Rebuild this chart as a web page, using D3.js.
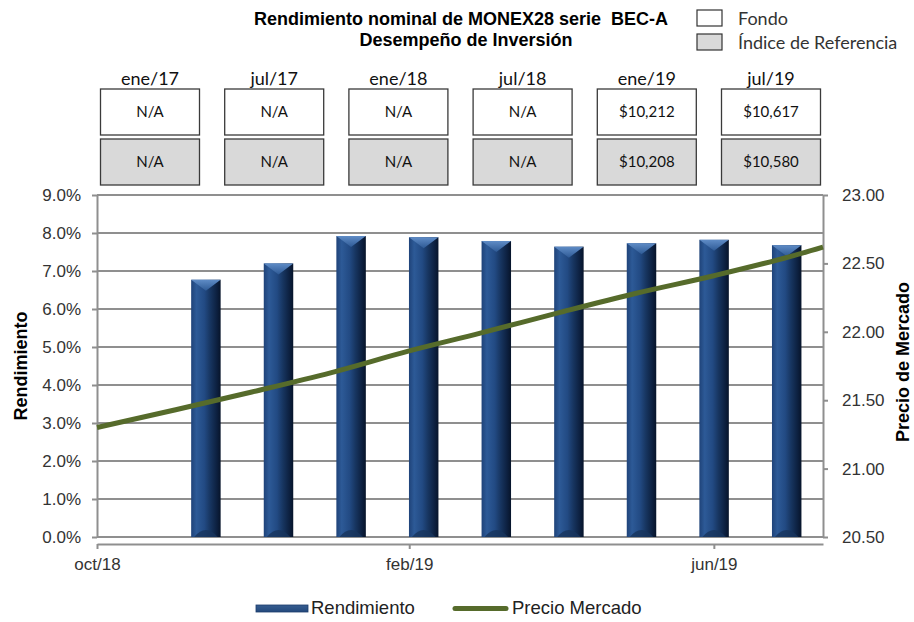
<!DOCTYPE html>
<html>
<head>
<meta charset="utf-8">
<script src="https://cdn.jsdelivr.net/npm/d3@7"></script>
<style>
  body { margin: 0; background: #fff; }
</style>
</head>
<body>
<div id="chart"></div>
<script>
// Data
const boxDates = ['ene/17', 'jul/17', 'ene/18', 'jul/18', 'ene/19', 'jul/19']
const fundValues = ['N/A', 'N/A', 'N/A', 'N/A', '$10,212', '$10,617']
const benchValues = ['N/A', 'N/A', 'N/A', 'N/A', '$10,208', '$10,580']

const barCategories = ['oct/18', 'nov/18', 'dic/18', 'ene/19', 'feb/19', 'mar/19', 'abr/19', 'may/19', 'jun/19', 'jul/19']
const barValues = [null, 0.0677, 0.0720, 0.0792, 0.0789, 0.0779, 0.0764, 0.0773, 0.0782, 0.0768]

const priceDates = ['2018-10-01', '2018-11-01', '2018-12-01', '2019-01-01', '2019-02-01', '2019-03-01',
  '2019-04-01', '2019-05-01', '2019-06-01', '2019-07-01', '2019-07-14']
const priceValues = [21.30, 21.43, 21.56, 21.70, 21.86, 21.99, 22.14, 22.28, 22.41, 22.55, 22.62]

const dateTicks = ['2018-10-01', '2019-02-01', '2019-06-01']
const dateTickLabels = ['oct/18', 'feb/19', 'jun/19']

function draw() {
  const parse = d3.timeParse('%Y-%m-%d')

  // Dimensions
  const dimensions = { width: 914, height: 622, left: 97, right: 823, top: 195, bottom: 537 }

  const svg = d3.select('#chart')
    .append('svg')
    .attr('width', dimensions.width)
    .attr('height', dimensions.height)
    .style('font-family', 'Liberation Sans, Arial, sans-serif')

  // Gradients for the bevelled bars
  const defs = svg.append('defs')
  const barGrad = defs.append('linearGradient').attr('id', 'barGrad')
  ;[[0, '#1f4379'], [0.18, '#2d5a97'], [0.45, '#224a83'], [0.65, '#173560'], [0.88, '#0c1f3e'], [1, '#07142a']]
    .forEach(s => barGrad.append('stop').attr('offset', s[0]).attr('stop-color', s[1]))
  const topGrad = defs.append('linearGradient').attr('id', 'topGrad').attr('x2', 0).attr('y2', 1)
  ;[[0, '#5f8cc6'], [1, '#2e5a95']]
    .forEach(s => topGrad.append('stop').attr('offset', s[0]).attr('stop-color', s[1]))

  // Scales
  const yLeft = d3.scaleLinear().domain([0, 0.09]).range([dimensions.bottom, dimensions.top])
  const yRight = d3.scaleLinear().domain([20.5, 23]).range([dimensions.bottom, dimensions.top])
  const xBand = d3.scaleBand()
    .domain(barCategories)
    .range([dimensions.left, dimensions.right])
    .paddingInner(0.594)
    .paddingOuter(0.297)
  const xTime = d3.scaleTime()
    .domain([parse(priceDates[0]), parse(priceDates[priceDates.length - 1])])
    .range([dimensions.left, dimensions.right])

  // Titles
  svg.append('text')
    .attr('x', 461).attr('y', 25)
    .attr('text-anchor', 'middle')
    .attr('font-weight', 'bold').attr('font-size', 18)
    .text('Rendimiento nominal de MONEX28 serie\u00a0 BEC-A')
  svg.append('text')
    .attr('x', 466).attr('y', 46)
    .attr('text-anchor', 'middle')
    .attr('font-weight', 'bold').attr('font-size', 18)
    .text('Desempeño de Inversión')

  // Top-right legend
  const keyG = svg.append('g').style('font-family', 'Lato, sans-serif').attr('font-size', 18)
  keyG.append('rect').attr('x', 697).attr('y', 10).attr('width', 25).attr('height', 16)
    .attr('fill', '#fff').attr('stroke', '#333').attr('stroke-width', 1.2)
  keyG.append('rect').attr('x', 697).attr('y', 34).attr('width', 25).attr('height', 16)
    .attr('fill', '#d9d9d9').attr('stroke', '#333').attr('stroke-width', 1.2)
  keyG.append('text').attr('x', 738).attr('y', 25).attr('fill', '#333').text('Fondo')
  keyG.append('text').attr('x', 738).attr('y', 49).attr('fill', '#333').text('Índice de Referencia')

  // Value boxes
  const xBox = d3.scalePoint().domain(boxDates).range([150, 771])
  const boxW = 99
  const boxG = svg.append('g').style('font-family', 'Lato, sans-serif')
  boxG.selectAll('.box-label')
    .data(boxDates)
    .join('text')
    .attr('x', d => xBox(d)).attr('y', 85)
    .attr('text-anchor', 'middle').attr('font-size', 18).attr('fill', '#111')
    .text(d => d)
  const rows = [
    { values: fundValues, y: 89, fill: '#fff' },
    { values: benchValues, y: 139, fill: '#d9d9d9' }
  ]
  rows.forEach(row => {
    boxG.selectAll(null)
      .data(boxDates)
      .join('rect')
      .attr('x', d => xBox(d) - boxW / 2).attr('y', row.y)
      .attr('width', boxW).attr('height', 46)
      .attr('fill', row.fill).attr('stroke', '#3a3a3a').attr('stroke-width', 1.3)
    boxG.selectAll(null)
      .data(boxDates)
      .join('text')
      .attr('x', d => xBox(d)).attr('y', row.y + 28)
      .attr('text-anchor', 'middle').attr('font-size', 15).attr('fill', '#111')
      .text((d, i) => row.values[i])
  })

  // Gridlines
  const gridColor = '#8f8f8f'
  svg.append('g')
    .selectAll('line')
    .data(yLeft.ticks(9))
    .join('line')
    .attr('x1', dimensions.left).attr('x2', dimensions.right)
    .attr('y1', d => yLeft(d)).attr('y2', d => yLeft(d))
    .attr('stroke', gridColor).attr('stroke-width', 2)

  // Bars
  const barData = barCategories.map((c, i) => ({ cat: c, value: barValues[i] })).filter(d => d.value !== null)
  const bw = xBand.bandwidth()
  const barG = svg.append('g')
  barG.selectAll('rect')
    .data(barData)
    .join('rect')
    .attr('x', d => xBand(d.cat))
    .attr('y', d => yLeft(d.value))
    .attr('width', bw)
    .attr('height', d => yLeft(0) - yLeft(d.value))
    .attr('fill', 'url(#barGrad)')
  barG.selectAll('.bevel')
    .data(barData)
    .join('path')
    .attr('d', d => {
      const x = xBand(d.cat), y = yLeft(d.value)
      return `M${x},${y}L${x + bw},${y}L${x + bw / 2},${y + 11}Z`
    })
    .attr('fill', 'url(#topGrad)')
  barG.selectAll('.base')
    .data(barData)
    .join('path')
    .attr('d', d => {
      const x = xBand(d.cat), y = yLeft(0)
      return `M${x + 3},${y}Q${x + bw / 2},${y - 14} ${x + bw - 3},${y}Z`
    })
    .attr('fill', '#18345c').attr('opacity', 0.8)

  // Left axis
  const yAxisL = d3.axisLeft(yLeft).ticks(9).tickFormat(d3.format('.1%')).tickSize(5).tickSizeOuter(0)
  const gL = svg.append('g')
    .attr('transform', `translate(${dimensions.left},0)`)
    .call(yAxisL)
  gL.select('.domain').attr('stroke', gridColor).attr('stroke-width', 2)
  gL.selectAll('.tick line').attr('stroke', gridColor).attr('stroke-width', 2)
  gL.selectAll('.tick text').attr('font-size', 17).attr('fill', '#333').attr('x', -16)
    .style('font-family', 'Liberation Sans, Arial, sans-serif')

  // Right axis
  const yAxisR = d3.axisRight(yRight).ticks(5).tickFormat(d3.format('.2f')).tickSize(5).tickSizeOuter(0)
  const gR = svg.append('g')
    .attr('transform', `translate(${dimensions.right},0)`)
    .call(yAxisR)
  gR.select('.domain').attr('stroke', gridColor).attr('stroke-width', 2)
  gR.selectAll('.tick line').attr('stroke', gridColor).attr('stroke-width', 2)
  gR.selectAll('.tick text').attr('font-size', 17).attr('fill', '#333').attr('x', 19)
    .style('font-family', 'Liberation Sans, Arial, sans-serif')

  // Secondary date axis
  const xAxis = d3.axisBottom(xTime)
    .tickValues(dateTicks.map(parse))
    .tickFormat((d, i) => dateTickLabels[i])
    .tickSize(5).tickSizeOuter(0)
  const gX = svg.append('g')
    .attr('transform', `translate(0,${dimensions.bottom + 7})`)
    .call(xAxis)
  gX.select('.domain').attr('stroke', gridColor).attr('stroke-width', 2)
  gX.selectAll('.tick line').attr('stroke', gridColor).attr('stroke-width', 2)
  gX.selectAll('.tick text').attr('font-size', 17).attr('fill', '#333').attr('y', 14)
    .style('font-family', 'Liberation Sans, Arial, sans-serif')

  // Price line
  const priceData = priceDates.map((d, i) => ({ date: parse(d), value: priceValues[i] }))
  const lineGenerator = d3.line()
    .x(d => xTime(d.date))
    .y(d => yRight(d.value))
    .curve(d3.curveMonotoneX)
  svg.append('path')
    .datum(priceData)
    .attr('d', lineGenerator)
    .attr('fill', 'none')
    .attr('stroke', '#566b2b')
    .attr('stroke-width', 5)

  // Axis titles
  svg.append('text')
    .attr('transform', 'translate(27,366) rotate(-90)')
    .attr('text-anchor', 'middle')
    .attr('font-weight', 'bold').attr('font-size', 18)
    .text('Rendimiento')
  svg.append('text')
    .attr('transform', 'translate(909,362) rotate(-90)')
    .attr('text-anchor', 'middle')
    .attr('font-weight', 'bold').attr('font-size', 18)
    .text('Precio de Mercado')

  // Bottom legend
  const legG = svg.append('g')
  legG.append('rect').attr('x', 256).attr('y', 605).attr('width', 52).attr('height', 7)
    .attr('fill', 'url(#topGrad)').attr('stroke', '#1a3a6a').attr('stroke-width', 0.8)
  legG.append('rect').attr('x', 256).attr('y', 605).attr('width', 52).attr('height', 7)
    .attr('fill', '#1c3d6d').attr('opacity', 0.6)
  legG.append('text').attr('x', 311).attr('y', 614).attr('font-size', 18.5).attr('fill', '#222').text('Rendimiento')
  legG.append('line').attr('x1', 455).attr('x2', 506).attr('y1', 608.5).attr('y2', 608.5)
    .attr('stroke', '#566b2b').attr('stroke-width', 5).attr('stroke-linecap', 'round')
  legG.append('text').attr('x', 512).attr('y', 614).attr('font-size', 18.5).attr('fill', '#222').text('Precio Mercado')
}

draw()
</script>
</body>
</html>
